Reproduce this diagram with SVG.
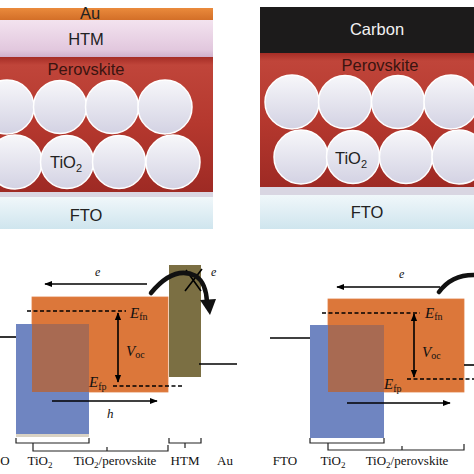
<svg xmlns="http://www.w3.org/2000/svg" width="474" height="474" viewBox="0 0 474 474">
<defs>
<linearGradient id="gHTM" x1="0" y1="0" x2="0" y2="1"><stop offset="0" stop-color="#f3e3ef"/><stop offset="0.8" stop-color="#e2c8de"/><stop offset="1" stop-color="#cfb0cb"/></linearGradient>
<linearGradient id="gPer" x1="0" y1="0" x2="0" y2="1"><stop offset="0" stop-color="#a52d26"/><stop offset="0.06" stop-color="#c0453a"/><stop offset="0.5" stop-color="#b5382e"/><stop offset="1" stop-color="#9e2a24"/></linearGradient>
<linearGradient id="gFTO" x1="0" y1="0" x2="0" y2="1"><stop offset="0" stop-color="#f0f7fa"/><stop offset="1" stop-color="#cfe5ee"/></linearGradient>
<linearGradient id="gBall" x1="0" y1="0" x2="0" y2="1"><stop offset="0" stop-color="#f7f7fa"/><stop offset="1" stop-color="#d3d2e3"/></linearGradient>
<linearGradient id="gAu" x1="0" y1="0" x2="0" y2="1"><stop offset="0" stop-color="#ea8a3c"/><stop offset="1" stop-color="#d36f28"/></linearGradient>
<marker id="ah" viewBox="0 0 10 10" refX="9" refY="5" markerWidth="8" markerHeight="8" markerUnits="userSpaceOnUse" orient="auto-start-reverse"><path d="M0,1 L10,5 L0,9 Z" fill="#000"/></marker>
</defs>
<style>
.ball{fill:url(#gBall);stroke:#ffffff;stroke-width:1.5}
.lbl{font-family:"Liberation Sans",Arial,sans-serif;font-size:16.5px;text-anchor:middle}
.dk{fill:#222}
.pv{fill:#3a1410}
.wt{fill:#f2f2f2}
.ser{font-family:"Liberation Serif","Times New Roman",serif;fill:#111}
.bl{font-size:13px;text-anchor:middle}
.it{font-style:italic}
.up{font-style:normal;font-size:10px}
.ln{stroke:#000;stroke-width:1.6;fill:none}
.dash{stroke:#000;stroke-width:1.6;stroke-dasharray:4 2.5;fill:none}
.brk{stroke:#222;stroke-width:1.2;fill:none}
</style>
<rect width="474" height="474" fill="#fff"/>

<g id="cell-au">
<rect x="0" y="8" width="213" height="12" fill="url(#gAu)"/>
<rect x="0" y="20" width="213" height="37" fill="url(#gHTM)"/>
<rect x="0" y="57" width="213" height="135" fill="url(#gPer)"/>
<g>
<circle class="ball" cx="7" cy="107" r="27"/>
<circle class="ball" cx="60" cy="107" r="26.5"/>
<circle class="ball" cx="112" cy="107" r="26.5"/>
<circle class="ball" cx="165" cy="107" r="27"/>
<circle class="ball" cx="15" cy="162" r="27"/>
<circle class="ball" cx="67" cy="162" r="26.5"/>
<circle class="ball" cx="119" cy="162" r="26.5"/>
<circle class="ball" cx="173" cy="162" r="27"/>
</g>
<rect x="0" y="192" width="213" height="5" fill="#d9d6e2"/>
<rect x="0" y="197" width="213" height="32" fill="url(#gFTO)"/>
<text class="lbl dk" x="90" y="19" font-size="15">Au</text>
<text class="lbl dk" x="86" y="45">HTM</text>
<text class="lbl pv" x="86" y="75">Perovskite</text>
<text class="lbl dk" x="66" y="168">TiO<tspan font-size="11" dy="4">2</tspan></text>
<text class="lbl dk" x="86" y="221">FTO</text>
</g>

<g id="cell-carbon">
<rect x="260" y="7" width="214" height="46" fill="#1c1b1b"/>
<rect x="260" y="53" width="214" height="134" fill="url(#gPer)"/>
<circle class="ball" cx="292" cy="102" r="27"/>
<circle class="ball" cx="345" cy="102" r="26.5"/>
<circle class="ball" cx="398" cy="102" r="26.5"/>
<circle class="ball" cx="451" cy="102" r="27"/>
<circle class="ball" cx="301" cy="157" r="27"/>
<circle class="ball" cx="353" cy="157" r="26.5"/>
<circle class="ball" cx="406" cy="157" r="26.5"/>
<circle class="ball" cx="459" cy="157" r="27"/>
<rect x="260" y="187" width="214" height="8" fill="#d9d6e2"/>
<rect x="260" y="195" width="214" height="34" fill="url(#gFTO)"/>
<text class="lbl wt" x="377" y="35">Carbon</text>
<text class="lbl pv" x="380" y="71">Perovskite</text>
<text class="lbl dk" x="351" y="164">TiO<tspan font-size="11" dy="4">2</tspan></text>
<text class="lbl dk" x="367" y="218">FTO</text>
</g>

<g id="band-au">
<rect x="32" y="297" width="136" height="95" fill="#dc773a" stroke="#e07f45" stroke-width="0.8"/>
<rect x="16" y="324" width="73" height="113" fill="#6f85c1"/>
<rect x="32" y="324" width="57" height="68" fill="#a86a52"/>
<rect x="16" y="434" width="73" height="3" fill="#d9d2c4"/>
<rect x="169" y="265" width="32" height="112" fill="#7b6f43"/>
<line class="ln" x1="0" y1="337" x2="16" y2="337"/>
<line class="ln" x1="199" y1="364" x2="237" y2="364"/>
<line class="dash" x1="27" y1="311" x2="126" y2="311"/>
<line class="dash" x1="113" y1="386" x2="183" y2="386"/>
<text class="ser it" x="130" y="318" font-size="15">E<tspan class="up" dy="2">fn</tspan></text>
<text class="ser it" x="126" y="356" font-size="15">V<tspan class="up" dy="2">oc</tspan></text>
<text class="ser it" x="89" y="387" font-size="15">E<tspan class="up" dy="3">fp</tspan></text>
<text class="ser it" x="95" y="276" font-size="12">e</text>
<text class="ser it" x="107" y="418" font-size="13">h</text>
<text class="ser it" x="211" y="276" font-size="12">e</text>
<path d="M186,270 L201,291 M185,291 L202,269" stroke="#000" stroke-width="1.6" fill="none"/>
<path d="M151,293 Q174,265 196,276 Q206,283 207,302" stroke="#111" stroke-width="4.5" fill="none" stroke-linecap="round"/>
<path d="M200,300 L216,299 L210,315 Z" fill="#111"/>
</g>

<g id="band-carbon">
<rect x="328" y="299" width="136" height="93" fill="#dc773a" stroke="#e07f45" stroke-width="0.8"/>
<rect x="310" y="325" width="74" height="113" fill="#6f85c1"/>
<rect x="328" y="325" width="56" height="67" fill="#a86a52"/>
<line class="ln" x1="270" y1="338" x2="310" y2="338"/>
<line class="ln" x1="464" y1="365" x2="474" y2="365"/>
<line class="dash" x1="322" y1="313" x2="420" y2="313"/>
<line class="dash" x1="407" y1="379" x2="474" y2="379"/>
<text class="ser it" x="425" y="318" font-size="15">E<tspan class="up" dy="2">fn</tspan></text>
<text class="ser it" x="422" y="357" font-size="15">V<tspan class="up" dy="2">oc</tspan></text>
<text class="ser it" x="384" y="389" font-size="15">E<tspan class="up" dy="3">fp</tspan></text>
<text class="ser it" x="399" y="278" font-size="12">e</text>
<path d="M439,292 Q452,274 476,275" stroke="#111" stroke-width="4.5" fill="none" stroke-linecap="round"/>
</g>

<g id="connectors">
<line class="ln" x1="147" y1="284" x2="45" y2="284" marker-end="url(#ah)"/>
<line class="ln" x1="118" y1="313" x2="118" y2="382" marker-start="url(#ah)" marker-end="url(#ah)"/>
<line class="ln" x1="52" y1="401" x2="157" y2="401" marker-end="url(#ah)"/>
<line class="ln" x1="440" y1="287" x2="337" y2="287" marker-end="url(#ah)"/>
<line class="ln" x1="414" y1="314" x2="414" y2="377" marker-start="url(#ah)" marker-end="url(#ah)"/>
<line class="ln" x1="347" y1="403" x2="450" y2="403" marker-end="url(#ah)"/>
</g>

<g id="brackets">
<path class="brk" d="M16,438 V443 H89 V438"/>
<path class="brk" d="M33,443 V451 H168 V445 M107,451 V447"/>
<path class="brk" d="M169,438 V443 H201 V438 M185,443 V448"/>
<path class="brk" d="M310,438 V443 H384 V438"/>
<path class="brk" d="M328,443 V450 H464 V444 M402,450 V446"/>
<text class="ser bl" x="5" y="465">O</text>
<text class="ser bl" x="40" y="465">TiO<tspan font-size="9" dy="3">2</tspan></text>
<text class="ser bl" x="115" y="465">TiO<tspan font-size="9" dy="3">2</tspan><tspan dy="-3">/perovskite</tspan></text>
<text class="ser bl" x="185" y="465">HTM</text>
<text class="ser bl" x="225" y="465">Au</text>
<text class="ser bl" x="285" y="465">FTO</text>
<text class="ser bl" x="333" y="465">TiO<tspan font-size="9" dy="3">2</tspan></text>
<text class="ser bl" x="407" y="465">TiO<tspan font-size="9" dy="3">2</tspan><tspan dy="-3">/perovskite</tspan></text>
</g>
</svg>
